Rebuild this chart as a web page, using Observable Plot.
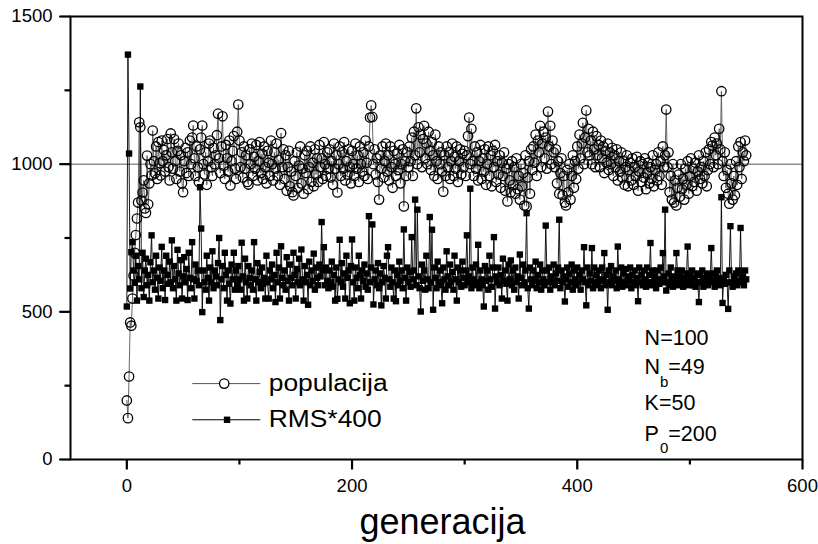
<!DOCTYPE html>
<html><head><meta charset="utf-8">
<script src="https://cdn.jsdelivr.net/npm/d3@7"></script>
<script src="https://cdn.jsdelivr.net/npm/@observablehq/plot@0.6"></script>
<style>
body{margin:0;background:#fff;overflow:hidden}
</style>
</head><body><div id="chart"></div>
<script>
// populacija, one value per generation (0..550)
const population = [
200,140,281,464,453,545,623,700,760,816,
870,1142,1125,877,904,945,850,835,1029,864,
935,1000,962,1114,1010,969,1060,950,1075,1003,
962,1080,1010,1048,975,1030,1085,990,945,1104,
1040,985,1085,1010,950,1045,1070,975,1030,935,
905,1010,1055,970,1040,960,1080,1000,1090,1131,
1020,960,1060,990,940,1050,1090,1131,1000,965,
1040,930,1010,1070,1080,990,960,1055,1000,1030,
1098,1171,1020,970,1060,1162,995,950,1065,1020,
975,1080,928,1010,1045,1095,985,950,1110,1202,
1080,990,1040,955,1060,985,1030,940,931,1050,
1000,1070,960,1025,985,1065,945,1010,1075,970,
1035,950,1060,990,935,1045,1005,960,1080,1000,
945,1040,985,1070,960,1015,930,1105,990,1050,
950,1030,910,990,1045,925,975,905,894,1010,
960,1040,920,995,1060,935,985,900,1030,970,
1045,915,990,1060,940,1005,925,1050,965,1020,
940,1065,990,1020,950,1075,1000,960,1040,985,
1050,955,1010,930,1070,985,1030,904,1000,1060,
960,1040,985,1075,945,1010,965,1050,990,935,
1045,1000,960,1070,985,1030,940,1060,1000,975,
1040,960,1080,1005,950,1060,1158,1199,1160,1000,
1050,965,1020,940,880,1030,985,1060,955,1010,
1070,975,1030,945,1060,990,920,1045,1000,960,
1035,980,1065,935,1000,1050,857,1010,960,1040,
990,1060,1010,1090,960,1110,1030,1189,1000,1125,
1040,1100,990,1085,1130,1020,1070,1000,1110,1045,
980,1075,1030,960,1100,1010,950,1060,1000,1040,
975,907,1030,960,1060,990,1040,950,1010,1070,
960,1025,985,1060,940,1010,1050,965,1035,990,
1045,960,1030,1095,1158,1000,1120,1010,960,1060,
985,1040,945,1010,1065,950,1020,975,1050,930,
1000,1060,960,1030,925,1045,990,1065,940,1010,
965,1030,920,1005,960,1040,910,985,874,1000,
945,905,1010,930,990,900,1020,915,960,880,
1000,925,970,860,1030,857,955,1010,900,1050,
980,1060,1005,1100,960,1080,1040,1130,990,1070,
1110,1020,1090,985,1178,1060,1130,1000,1080,1040,
990,1050,935,1010,900,970,1020,895,960,870,
860,980,905,1000,880,960,1030,920,1010,950,
1060,985,1100,1020,1070,1140,1000,1090,1182,1040,
1120,1030,1080,1000,1110,1050,990,1095,1030,1065,
990,1080,1020,1060,970,1045,1005,1070,980,1040,
1000,1055,960,1030,990,1050,945,1010,975,1040,
955,1010,930,990,1030,925,980,1005,945,1020,
930,990,960,1025,910,975,1010,940,1000,955,
1020,915,970,1005,935,990,950,1030,925,980,
1000,945,1040,960,1010,930,1060,990,1030,1185,
990,1040,905,960,880,1000,870,945,860,920,
965,890,1000,915,950,880,985,930,1010,900,
960,1020,925,985,940,1005,910,975,1030,950,
990,935,1010,960,1040,925,980,1050,1000,1075,
1063,990,1090,1030,1070,1000,1120,1050,1247,1010,
960,1040,920,980,900,866,1000,935,880,960,
895,1010,930,1060,990,1075,950,1040,1010,1080,
1030
];
// RMS*400, one value per generation (0..550)
const rms = [
518,1371,1036,579,702,736,640,598,690,538,
655,610,1263,580,700,550,640,680,590,625,
538,668,759,600,640,575,690,615,545,650,
605,720,580,640,540,690,625,595,670,600,
742,580,655,610,538,710,630,590,675,545,
620,685,600,645,540,700,615,580,736,610,
545,660,605,640,590,922,782,499,640,600,
575,690,615,538,650,600,705,580,640,620,
590,665,750,472,610,655,580,700,625,538,
640,595,528,660,610,700,575,640,590,655,
610,575,734,620,538,680,600,545,655,615,
590,640,575,736,610,538,665,600,635,580,
650,595,615,545,690,600,545,640,610,660,
580,625,533,700,600,650,545,722,615,590,
640,575,685,605,538,660,615,590,700,625,
545,645,600,680,590,711,610,538,655,600,
625,524,670,590,640,605,697,575,650,615,
590,660,620,804,640,719,590,650,605,580,
640,600,670,585,625,538,650,544,610,744,
600,665,585,630,545,690,615,640,529,655,
745,600,538,650,615,580,690,625,545,640,
605,660,585,630,575,824,600,650,796,525,
610,640,590,665,580,630,522,600,655,615,
545,690,719,610,585,650,600,545,640,536,
625,590,670,605,640,580,779,615,538,650,
600,635,585,753,610,640,880,590,846,620,
580,501,660,605,640,575,690,610,580,821,
600,778,507,650,615,580,670,600,640,590,
529,650,610,575,705,620,590,660,600,635,
575,690,610,538,650,600,640,585,670,615,
590,640,759,600,620,917,580,650,610,590,
660,600,727,580,640,610,590,518,655,605,
640,575,690,610,585,650,753,511,620,600,
650,590,625,545,680,605,640,595,538,660,
610,674,590,640,575,650,600,620,545,694,
615,590,660,600,640,834,580,511,650,610,
590,640,605,670,580,625,600,660,575,640,
610,590,792,640,600,650,575,620,600,660,
590,630,605,650,812,580,640,600,620,535,
610,650,585,630,600,660,575,640,610,590,
650,600,625,575,640,610,719,600,522,650,
590,630,605,716,580,650,600,625,590,640,
605,580,650,610,699,590,625,507,640,600,
655,590,620,605,640,580,721,610,600,650,
585,630,600,645,590,620,605,650,580,625,
600,640,590,615,536,650,600,625,590,640,
610,585,650,600,625,733,590,640,600,620,
580,640,610,595,650,600,699,620,846,572,
600,630,590,650,610,585,620,600,699,640,
590,620,605,640,585,615,600,630,721,590,
620,600,640,590,615,585,630,600,533,625,
600,640,585,615,600,630,590,620,605,716,
600,630,585,620,640,600,615,590,888,530,
610,595,625,600,510,640,790,600,585,620,
600,630,590,640,605,784,600,620,590,640,
610
];
const xTicks = [0, 200, 400, 600];
const xMinorTicks = [100, 300, 500];
const yTicks = [0, 500, 1000, 1500];
const yMinorTicks = [250, 750, 1250];
const refLine = [1000];
const xLabel = "generacija";
const seriesNames = ["populacija", "RMS*400"];
const paramMain = ["N=100", "N", "K=50", "P"];
const paramSub = ["b", "0"];
const paramRest = ["=49", "=200"];

const popData = population.map((v, i) => ({g: i, v}));
const rmsData = rms.map((v, i) => ({g: i, v}));

const FONT = "'Liberation Sans', Arial, Helvetica, sans-serif";
const W = 818, H = 544, ML = 70, MR = 16, MT = 16, MB = 85;
const xDom = [-50, 600], yDom = [0, 1500];
const kx = (xDom[1] - xDom[0]) / (W - ML - MR);
const ky = (yDom[1] - yDom[0]) / (H - MT - MB);

const chart = Plot.plot({
  width: W,
  height: H,
  marginLeft: ML,
  marginRight: MR,
  marginTop: MT,
  marginBottom: MB,
  style: {fontFamily: FONT, fontSize: "18.5px", background: "white"},
  x: {domain: xDom, ticks: xTicks, tickSize: 10, tickPadding: 9, tickFormat: d => String(d), label: null},
  y: {domain: yDom, ticks: yTicks, tickSize: 11, tickPadding: 7, tickFormat: d => String(d), label: null},
  marks: [
    Plot.ruleY(refLine, {stroke: "#555", strokeWidth: 1}),
    Plot.line(popData, {x: "g", y: "v", stroke: "#555", strokeWidth: 0.9}),
    Plot.dot(popData, {x: "g", y: "v", r: 4.7, stroke: "black", strokeWidth: 1.3, fill: "none"}),
    Plot.line(rmsData, {x: "g", y: "v", stroke: "black", strokeWidth: 0.9}),
    Plot.dot(rmsData, {x: "g", y: "v", symbol: "square", r: 3.6, fill: "black", stroke: "none"}),
    // outward ticks, major and minor, as links in data space
    Plot.link(yTicks, {x1: xDom[0] - 11 * kx, x2: xDom[0], y1: d => d, y2: d => d, stroke: "black", strokeWidth: 2.2}),
    Plot.link(yMinorTicks, {x1: xDom[0] - 6 * kx, x2: xDom[0], y1: d => d, y2: d => d, stroke: "black", strokeWidth: 2.2}),
    Plot.link(xTicks, {x1: d => d, x2: d => d, y1: yDom[0] - 10 * ky, y2: yDom[0], stroke: "black", strokeWidth: 2.2}),
    Plot.link(xMinorTicks, {x1: d => d, x2: d => d, y1: yDom[0] - 5 * ky, y2: yDom[0], stroke: "black", strokeWidth: 2.2}),
    Plot.frame({stroke: "black", strokeWidth: 2}),
    Plot.text([xLabel], {frameAnchor: "bottom", dx: 6, dy: 74, fontSize: 36, fill: "black"}),
    // legend
    Plot.ruleY([257], {x1: 58.6, x2: 119, stroke: "#555", strokeWidth: 1}),
    Plot.dot([0], {x: 86.5, y: 257, r: 4.7, stroke: "black", strokeWidth: 1.3, fill: "white"}),
    Plot.ruleY([134.5], {x1: 58.6, x2: 119, stroke: "black", strokeWidth: 1}),
    Plot.dot([0], {x: 89, y: 134.5, symbol: "square", r: 3.6, fill: "black"}),
    Plot.text([seriesNames[0]], {x: 126, y: 231, textAnchor: "start", lineAnchor: "bottom", fontSize: 23, fill: "black"}),
    Plot.text([seriesNames[1]], {x: 126, y: 109, textAnchor: "start", lineAnchor: "bottom", fontSize: 23, fill: "black"}),
    // parameters
    Plot.text([paramMain[0]], {x: 459.8, y: 389, textAnchor: "start", lineAnchor: "bottom", fontSize: 21.5, fill: "black"}),
    Plot.text([paramMain[1]], {x: 459.8, y: 288, textAnchor: "start", lineAnchor: "bottom", fontSize: 21.5, fill: "black"}),
    Plot.text([paramSub[0]], {x: 473.5, y: 247, textAnchor: "start", lineAnchor: "bottom", fontSize: 15, fill: "black"}),
    Plot.text([paramRest[0]], {x: 480.8, y: 288, textAnchor: "start", lineAnchor: "bottom", fontSize: 21.5, fill: "black"}),
    Plot.text([paramMain[2]], {x: 459.8, y: 166, textAnchor: "start", lineAnchor: "bottom", fontSize: 21.5, fill: "black"}),
    Plot.text([paramMain[3]], {x: 459.8, y: 64, textAnchor: "start", lineAnchor: "bottom", fontSize: 21.5, fill: "black"}),
    Plot.text([paramSub[1]], {x: 473.5, y: 23.7, textAnchor: "start", lineAnchor: "bottom", fontSize: 15, fill: "black"}),
    Plot.text([paramRest[1]], {x: 480.8, y: 64, textAnchor: "start", lineAnchor: "bottom", fontSize: 21.5, fill: "black"})
  ]
});

// stretch legend labels horizontally like the original
d3.select(chart).selectAll("text").each(function () {
  const t = this.textContent;
  if (t === seriesNames[0]) { this.setAttribute("textLength", 119); this.setAttribute("lengthAdjust", "spacingAndGlyphs"); }
  if (t === seriesNames[1]) { this.setAttribute("textLength", 113); this.setAttribute("lengthAdjust", "spacingAndGlyphs"); }
});

document.getElementById("chart").appendChild(chart);
</script>
</body></html>
